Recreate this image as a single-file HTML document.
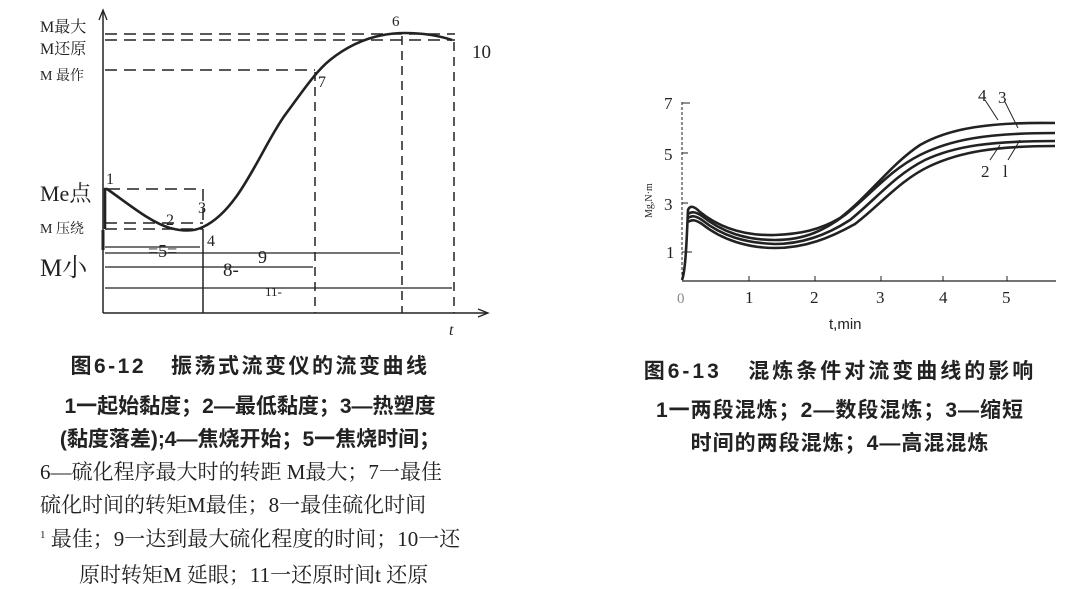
<!DOCTYPE html>
<html><head><meta charset="utf-8"><style>
body{margin:0;background:#fff;width:1066px;height:586px;overflow:hidden;font-family:"Liberation Serif","Noto Serif CJK SC",serif}
.t{position:absolute;white-space:nowrap;font-family:"Liberation Sans","Noto Sans CJK SC",sans-serif;color:#222;font-size:21px;text-align:center}
.s{position:absolute;white-space:nowrap;font-family:"Liberation Serif","Noto Serif CJK SC",serif;color:#222;font-size:21px}
</style></head><body>
<svg width="1066" height="586" style="position:absolute;left:0;top:0" font-family="Liberation Serif, Noto Serif CJK SC, serif">
<g stroke="#222" fill="none">
<line x1="103" y1="12" x2="103" y2="313" stroke-width="1.5"/>
<line x1="103" y1="313" x2="487" y2="313" stroke-width="1.5"/>
<path d="M99,20 L103,10 L107,20" stroke-width="1.3"/>
<path d="M478,309 L488,313 L478,317" stroke-width="1.3"/>
<g stroke-dasharray="12,7" stroke-width="1.5">
<line x1="105" y1="34" x2="455" y2="34"/>
<line x1="105" y1="40" x2="455" y2="40"/>
<line x1="105" y1="70" x2="315" y2="70"/>
<line x1="108" y1="189" x2="203" y2="189"/>
<line x1="203" y1="189" x2="203" y2="228"/>
<line x1="105" y1="223" x2="203" y2="223"/>
<line x1="105" y1="229" x2="203" y2="229"/>
<line x1="315" y1="72" x2="315" y2="313" stroke-dasharray="9,6"/>
<line x1="402" y1="36" x2="402" y2="313" stroke-dasharray="9,6"/>
<line x1="454" y1="42" x2="454" y2="313" stroke-dasharray="9,6"/>
<line x1="203" y1="229" x2="203" y2="313" stroke-dasharray="none"/>
</g>
<g stroke-width="1.2">
<line x1="105" y1="247" x2="200" y2="247"/>
<line x1="105" y1="253" x2="400" y2="253"/>
<line x1="105" y1="267" x2="313" y2="267"/>
<line x1="105" y1="288" x2="452" y2="288"/>
</g>
<path d="M105,229 L105,189 L107,189 C130,205 150,222 170,228 C185,232 195,231 203,227 C240,210 260,150 285,115 C300,95 315,72 330,60 C355,40 380,33 405,33 C425,33 440,36 452,40" stroke-width="2.6"/>
<path d="M103,230 L103,250" stroke-width="3"/>
</g>
<g fill="#222" font-size="16">
<text x="40" y="32">M最大</text><text x="40" y="54">M还原</text><text x="40" y="80" font-size="14">M  最作</text>
<text x="40" y="201" font-size="22">Me点</text><text x="40" y="233" font-size="14">M  压绕</text>
<text x="40" y="276" font-size="25">M小</text>
<text x="392" y="26" font-size="15">6</text><text x="472" y="58" font-size="19">10</text>
<text x="106" y="184">1</text><text x="166" y="225">2</text><text x="198" y="213">3</text><text x="207" y="246">4</text><text x="318" y="87">7</text>
<text x="148" y="257" font-size="18">=5=</text><text x="258" y="263" font-size="18">9</text>
<text x="223" y="276" font-size="19">8-</text><text x="265" y="296" font-size="13">11-</text>
<text x="449" y="335" font-style="italic">t</text>
</g>
<g stroke="#222" fill="none">
<line x1="682" y1="102" x2="682" y2="281" stroke-width="1" stroke-dasharray="3,2"/>
<line x1="682" y1="281" x2="1056" y2="281" stroke-width="1.3"/>
<g stroke-width="1"><line x1="682" y1="103" x2="690" y2="103"/><line x1="682" y1="153" x2="688" y2="153"/><line x1="682" y1="203" x2="688" y2="203"/><line x1="682" y1="252" x2="692" y2="252"/>
<line x1="749" y1="281" x2="749" y2="276"/><line x1="815" y1="281" x2="815" y2="276"/><line x1="881" y1="281" x2="881" y2="276"/><line x1="943" y1="281" x2="943" y2="276"/><line x1="1007" y1="281" x2="1007" y2="276"/></g>
<g stroke-width="2.6">
<path d="M682,280 C686,270 687,230 688,210 C690,205 694,206 700,212 C720,228 745,236 775,235 C800,234 820,230 840,218 C870,195 890,165 920,145 C950,128 990,122 1055,123"/>
<path d="M688,214 C692,211 696,212 702,216 C722,232 745,240 775,240 C805,240 825,230 845,215 C870,195 890,170 920,155 C950,140 985,133 1055,133"/>
<path d="M688,218 C692,215 696,216 702,220 C722,236 745,243 775,244 C805,244 830,233 850,220 C875,200 895,175 925,160 C955,146 990,141 1055,141"/>
<path d="M688,222 C692,219 696,220 702,224 C722,240 748,248 775,248 C805,248 830,238 855,224 C880,205 900,180 930,166 C960,152 995,146 1055,146"/>
</g>
<g stroke-width="1"><line x1="985" y1="100" x2="998" y2="120"/><line x1="1005" y1="102" x2="1018" y2="128"/><line x1="990" y1="160" x2="1000" y2="145"/><line x1="1008" y1="160" x2="1020" y2="140"/></g>
</g>
<g fill="#222" font-size="17">
<text x="664" y="109">7</text><text x="664" y="160">5</text><text x="664" y="210">3</text><text x="666" y="258">1</text>
<text x="677" y="303" font-size="15" fill="#888">0</text><text x="745" y="303">1</text><text x="810" y="303">2</text><text x="876" y="303">3</text><text x="939" y="303">4</text><text x="1002" y="303">5</text>
<text x="978" y="101">4</text><text x="998" y="103">3</text><text x="981" y="177">2</text><text x="1003" y="177">l</text>
<text x="829" y="329" font-family="Liberation Sans, sans-serif" font-size="15">t,min</text>
<text x="652" y="218" font-size="10" transform="rotate(-90 652 218)">Mg,N·m</text>
</g>
</svg>
<div class="t" style="left:20px;width:460px;top:350px;font-weight:bold;font-size:21px;letter-spacing:2.5px">图6-12&nbsp;&nbsp;&nbsp;振荡式流变仪的流变曲线</div>
<div class="t" style="left:20px;width:460px;top:390px;font-weight:bold;font-size:21px">1一起始黏度；2—最低黏度；3—热塑度</div>
<div class="t" style="left:20px;width:460px;top:423px;font-weight:bold;font-size:21px">(黏度落差);4—焦烧开始；5一焦烧时间；</div>
<div class="s" style="left:40px;top:456px">6—硫化程序最大时的转距 M最大；7一最佳</div>
<div class="s" style="left:40px;top:489px">硫化时间的转矩M最佳；8一最佳硫化时间</div>
<div class="s" style="left:40px;top:523px"><sup style="font-size:11px">1</sup> 最佳；9一达到最大硫化程度的时间；10一还</div>
<div class="s" style="left:79px;top:559px">原时转矩M 延眼；11一还原时间t 还原</div>
<div class="t" style="left:620px;width:440px;top:355px;font-weight:bold;font-size:21px;letter-spacing:3px">图6-13&nbsp;&nbsp;&nbsp;混炼条件对流变曲线的影响</div>
<div class="t" style="left:620px;width:440px;top:394px;font-weight:bold;font-size:21px;letter-spacing:1px">1一两段混炼；2—数段混炼；3—缩短</div>
<div class="t" style="left:620px;width:440px;top:427px;font-weight:bold;font-size:21px;letter-spacing:1px">时间的两段混炼；4—高混混炼</div>
</body></html>
